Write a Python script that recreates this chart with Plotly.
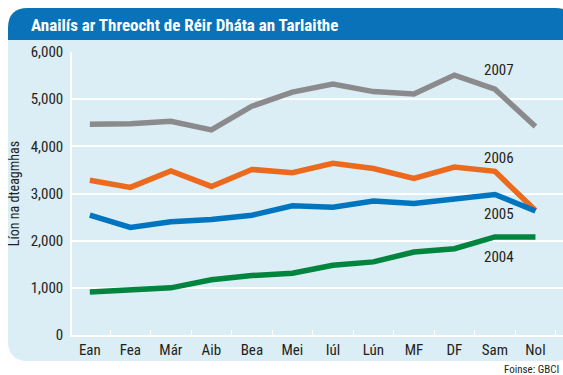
import plotly.graph_objects as go

W, H = 563, 375
ML, MR, MT, MB = 72, 0, 52, 40

months = ["Ean", "Fea", "Már", "Aib", "Bea", "Mei", "Iúl", "Lún", "MF", "DF", "Sam", "Nol"]
y2007 = [4470, 4480, 4530, 4350, 4850, 5150, 5320, 5160, 5110, 5510, 5210, 4420]
y2006 = [3280, 3130, 3480, 3150, 3510, 3440, 3640, 3530, 3320, 3560, 3470, 2640]
y2005 = [2540, 2280, 2400, 2450, 2540, 2740, 2710, 2840, 2790, 2890, 2980, 2630]
y2004 = [910, 960, 1000, 1170, 1260, 1310, 1480, 1550, 1760, 1830, 2080, 2080]

series = [
    ("2007", y2007, "#8b8b8d", 5620),
    ("2006", y2006, "#ec6a1e", 3750),
    ("2005", y2005, "#0075bf", 2560),
    ("2004", y2004, "#00853f", 1650),
]

FONT = "Liberation Sans Narrow, Roboto Condensed, Arial Narrow, Liberation Sans, sans-serif"

pw = W - ML - MR
ph = H - MT - MB


def px(x):
    return (x - ML) / pw


def py(y):
    return (H - MB - y) / ph


def rounded_rect(x0, y0, x1, y1, r_tl, r_tr, r_br, r_bl):
    # path in paper units built from pixel coordinates (y grows downward)
    pts = []
    pts.append(f"M {px(x0 + r_tl)},{py(y0)}")
    pts.append(f"L {px(x1 - r_tr)},{py(y0)}")
    pts.append(f"Q {px(x1)},{py(y0)} {px(x1)},{py(y0 + r_tr)}")
    pts.append(f"L {px(x1)},{py(y1 - r_br)}")
    pts.append(f"Q {px(x1)},{py(y1)} {px(x1 - r_br)},{py(y1)}")
    pts.append(f"L {px(x0 + r_bl)},{py(y1)}")
    pts.append(f"Q {px(x0)},{py(y1)} {px(x0)},{py(y1 - r_bl)}")
    pts.append(f"L {px(x0)},{py(y0 + r_tl)}")
    pts.append(f"Q {px(x0)},{py(y0)} {px(x0 + r_tl)},{py(y0)}")
    return " ".join(pts) + " Z"


fig = go.Figure()

for name, vals, color, _ in series:
    fig.add_trace(go.Scatter(
        x=months, y=vals, mode="lines", name=name,
        line=dict(color=color, width=5.5),
        hoverinfo="skip",
    ))

annotations = []
for name, vals, color, ly in series:
    annotations.append(dict(
        x=10.1, y=ly, xref="x", yref="y", text=name, showarrow=False,
        font=dict(family=FONT, size=15, color="#231f20"),
        xanchor="center", yanchor="middle",
    ))

annotations.append(dict(
    x=px(29), y=py(25), xref="paper", yref="paper",
    text="<b>Anailís ar Threocht de Réir Dháta an Tarlaithe</b>",
    showarrow=False, xanchor="left", yanchor="middle",
    font=dict(family=FONT, size=17, color="white"),
))
annotations.append(dict(
    x=px(561), y=py(369), xref="paper", yref="paper",
    text="Foinse: GBCI", showarrow=False, xanchor="right", yanchor="middle",
    font=dict(family=FONT, size=11, color="#231f20"),
))

shapes = [
    dict(type="path", xref="paper", yref="paper", layer="below",
         path=rounded_rect(8, 8, 575, 361, 20, 20, 20, 20),
         fillcolor="#dbedf5", line=dict(width=0)),
    dict(type="path", xref="paper", yref="paper", layer="below",
         path=rounded_rect(8, 8, 575, 40, 20, 20, 0, 0),
         fillcolor="#0a72b8", line=dict(width=0)),
]

fig.update_layout(
    width=W, height=H,
    margin=dict(l=ML, r=MR, t=MT, b=MB),
    paper_bgcolor="white",
    plot_bgcolor="rgba(0,0,0,0)",
    showlegend=False,
    annotations=annotations,
    shapes=shapes,
    font=dict(family=FONT, color="#231f20"),
)

fig.update_xaxes(
    range=[-0.44, 11.68],
    showgrid=False,
    showline=True, linecolor="white", linewidth=1.5,
    ticks="inside", tickson="boundaries", ticklen=5, tickcolor="white", tickwidth=1,
    tickfont=dict(family=FONT, size=15, color="#231f20"),
    zeroline=False,
)
fig.update_yaxes(
    range=[0, 6000],
    tickvals=[0, 1000, 2000, 3000, 4000, 5000, 6000],
    tickformat=",",
    showgrid=True, gridcolor="white", gridwidth=1.5,
    showline=True, linecolor="white", linewidth=1.5,
    zeroline=False,
    ticks="", ticklabelstandoff=4,
    tickfont=dict(family=FONT, size=15, color="#231f20"),
    title=dict(text="Líon na dteagmhas", standoff=8,
               font=dict(family=FONT, size=14, color="#231f20")),
)

fig.write_html("out.html")
